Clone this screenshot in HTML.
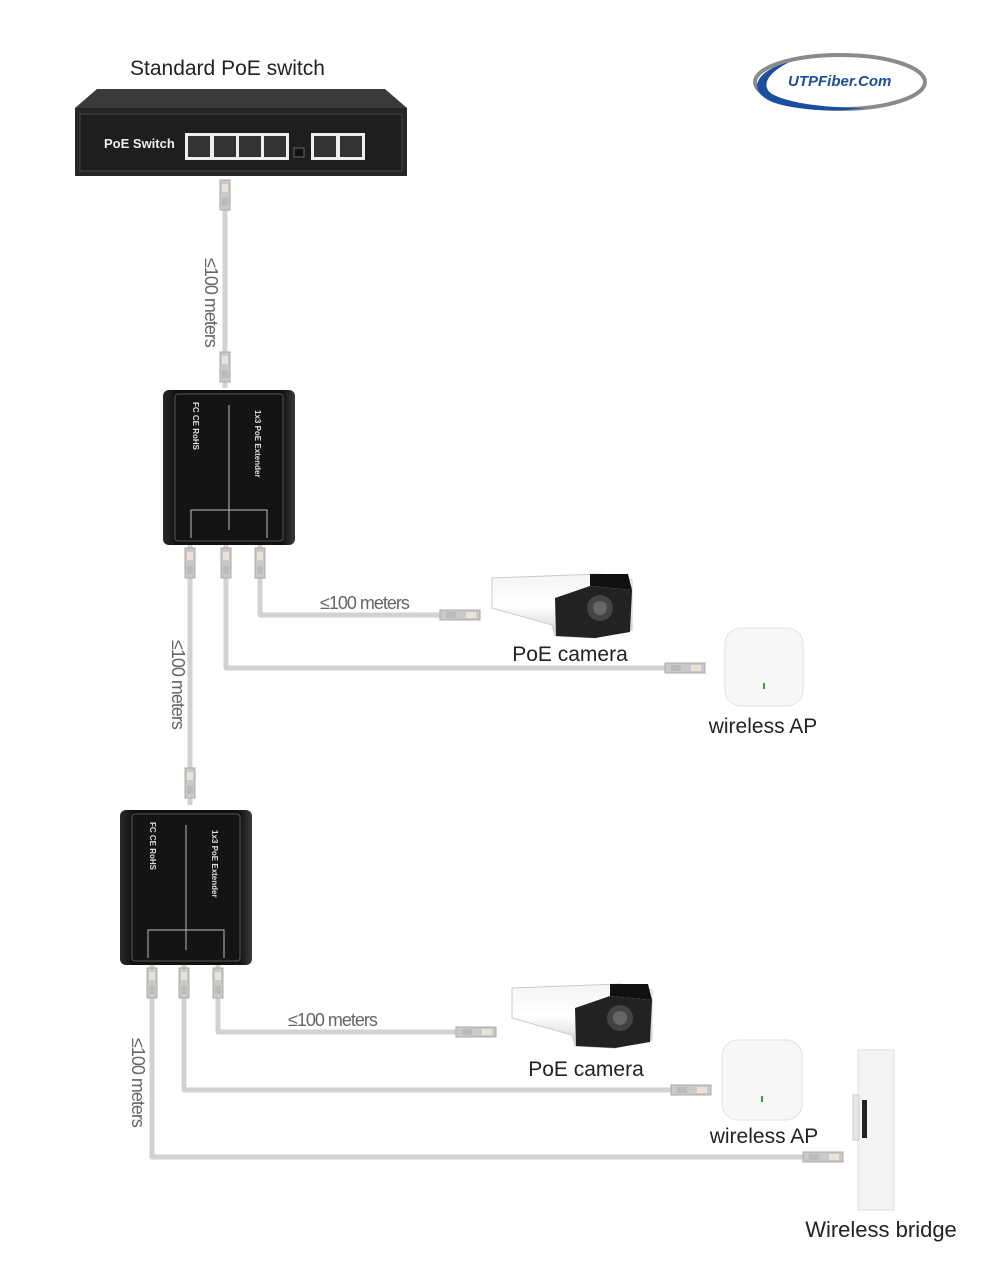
<!DOCTYPE html>
<html><head><meta charset="utf-8"><style>
html,body{margin:0;padding:0;background:#fff;}
svg{display:block;}
text{font-family:"Liberation Sans","DejaVu Sans",sans-serif;}
</style></head><body>
<svg width="1007" height="1271" viewBox="0 0 1007 1271" xmlns="http://www.w3.org/2000/svg">
<defs>
<linearGradient id="cam" x1="0" y1="0" x2="0" y2="1"><stop offset="0" stop-color="#f4f4f4"/><stop offset="0.5" stop-color="#ffffff"/><stop offset="1" stop-color="#cfcfcf"/></linearGradient>
<linearGradient id="ext" x1="0" y1="0" x2="1" y2="0"><stop offset="0" stop-color="#2a2a2a"/><stop offset="0.1" stop-color="#111"/><stop offset="0.9" stop-color="#111"/><stop offset="1" stop-color="#3a3a3a"/></linearGradient>
<g id="conn"><rect x="-5" y="0" width="10" height="30" fill="#c9c9c9" stroke="#aaa" stroke-width="1"/><rect x="-3" y="4" width="6" height="8" fill="#e9e2d8"/><rect x="-3" y="18" width="6" height="8" fill="#bbb"/></g>
<g id="connh"><rect x="0" y="-5" width="40" height="10" fill="#c9c9c9" stroke="#aaa" stroke-width="1"/><rect x="26" y="-3" width="10" height="6" fill="#e9e2d8"/><rect x="6" y="-3" width="10" height="6" fill="#bbb"/></g>
<g id="extender">
<rect x="0" y="0" width="132" height="155" rx="6" fill="url(#ext)"/>
<rect x="12" y="4" width="108" height="147" rx="3" fill="#141414" stroke="#555" stroke-width="1"/>
<line x1="66" y1="15" x2="66" y2="140" stroke="#bbb" stroke-width="1"/>
<polyline points="28,148 28,120 104,120 104,148" fill="none" stroke="#bbb" stroke-width="1"/>
<text x="0" y="0" transform="translate(30,12) rotate(90)" font-size="8" fill="#ddd" font-weight="bold">FC  CE  RoHS</text>
<text x="0" y="0" transform="translate(92,20) rotate(90)" font-size="8" fill="#ddd" font-weight="bold">1x3 PoE Extender</text>
</g>
</defs>

<text x="130" y="75" font-size="21" fill="#222">Standard PoE switch</text>

<!-- logo -->
<ellipse cx="840" cy="82" rx="85" ry="27" fill="none" stroke="#8a8a8a" stroke-width="4"/>
<path d="M790 62 C755 70 745 92 775 103 C800 111 840 112 865 108 C830 108 790 104 772 94 C760 86 768 72 790 62 Z" fill="#1a4fa0"/>
<text x="788" y="86" font-size="15" font-style="italic" font-weight="bold" fill="#1a4fa0">UTPFiber.Com</text>

<!-- switch -->
<polygon points="97,89 385,89 407,108 75,108" fill="#3a3a3a"/>
<rect x="75" y="108" width="332" height="68" fill="#262626"/>
<rect x="80" y="114" width="322" height="57" fill="#1e1e1e" stroke="#444"/>
<text x="104" y="148" font-size="13" font-weight="bold" fill="#eee" font-family="Liberation Mono,monospace">PoE Switch</text>
<rect x="185" y="133" width="104" height="27" fill="#eee"/>
<rect x="188" y="136" width="22" height="21" fill="#333"/><rect x="214" y="136" width="22" height="21" fill="#333"/><rect x="239" y="136" width="22" height="21" fill="#333"/><rect x="264" y="136" width="22" height="21" fill="#333"/>
<rect x="311" y="133" width="54" height="27" fill="#eee"/>
<rect x="314" y="136" width="22" height="21" fill="#333"/><rect x="340" y="136" width="22" height="21" fill="#333"/>
<rect x="294" y="148" width="10" height="9" fill="#111" stroke="#666"/>

<!-- cables -->
<g fill="none" stroke="#d2d2d2" stroke-width="5" stroke-linejoin="round">
<line x1="225" y1="180" x2="225" y2="388"/>
<polyline points="190,545 190,805"/>
<polyline points="260,545 260,615 445,615"/>
<polyline points="226,545 226,668 670,668"/>
<polyline points="218,965 218,1032 460,1032"/>
<polyline points="184,965 184,1090 675,1090"/>
<polyline points="152,965 152,1157 805,1157"/>
</g>
<use href="#conn" x="225" y="180"/><use href="#conn" x="225" y="352"/>
<use href="#conn" x="190" y="548"/><use href="#conn" x="226" y="548"/><use href="#conn" x="260" y="548"/>
<use href="#conn" x="190" y="768"/>
<use href="#conn" x="152" y="968"/><use href="#conn" x="184" y="968"/><use href="#conn" x="218" y="968"/>
<use href="#connh" x="440" y="615"/><use href="#connh" x="665" y="668"/>
<use href="#connh" x="456" y="1032"/><use href="#connh" x="671" y="1090"/><use href="#connh" x="803" y="1157"/>

<g font-size="18" fill="#666" letter-spacing="-1">
<text transform="translate(205,258) rotate(90)">≤100 meters</text>
<text transform="translate(172,640) rotate(90)">≤100 meters</text>
<text transform="translate(132,1038) rotate(90)">≤100 meters</text>
<text x="320" y="609">≤100 meters</text>
<text x="288" y="1026">≤100 meters</text>
</g>

<use href="#extender" x="163" y="390"/>
<use href="#extender" x="120" y="810"/>

<g id="cam1">
<path d="M492 578 L600 574 L632 580 L632 630 L595 638 L555 636 L552 625 L492 608 Z" fill="url(#cam)" stroke="#ccc"/>
<path d="M555 598 L590 586 L632 590 L630 632 L595 638 L556 636 Z" fill="#222"/>
<circle cx="600" cy="608" r="13" fill="#444"/><circle cx="600" cy="608" r="7" fill="#666"/>
<path d="M590 574 L628 574 L632 590 L590 586 Z" fill="#111"/>
</g>
<use href="#cam1" x="20" y="410"/>
<text x="570" y="661" font-size="21" fill="#222" text-anchor="middle">PoE camera</text>
<text x="586" y="1076" font-size="21" fill="#222" text-anchor="middle">PoE camera</text>

<rect x="725" y="628" width="78" height="78" rx="16" fill="#f7f7f7" stroke="#e2e2e2"/>
<rect x="763" y="683" width="2" height="6" fill="#3a3"/>
<text x="763" y="733" font-size="21" fill="#222" text-anchor="middle">wireless AP</text>
<rect x="722" y="1040" width="80" height="80" rx="16" fill="#f7f7f7" stroke="#e2e2e2"/>
<rect x="761" y="1096" width="2" height="6" fill="#3a3"/>
<text x="764" y="1143" font-size="21" fill="#222" text-anchor="middle">wireless AP</text>

<rect x="858" y="1050" width="36" height="160" fill="#f4f4f4" stroke="#ddd"/>
<rect x="853" y="1095" width="6" height="45" fill="#e6e6e6" stroke="#ccc"/>
<rect x="862" y="1100" width="5" height="38" fill="#222"/>
<text x="881" y="1237" font-size="22" fill="#222" text-anchor="middle">Wireless bridge</text>
</svg>
</body></html>
